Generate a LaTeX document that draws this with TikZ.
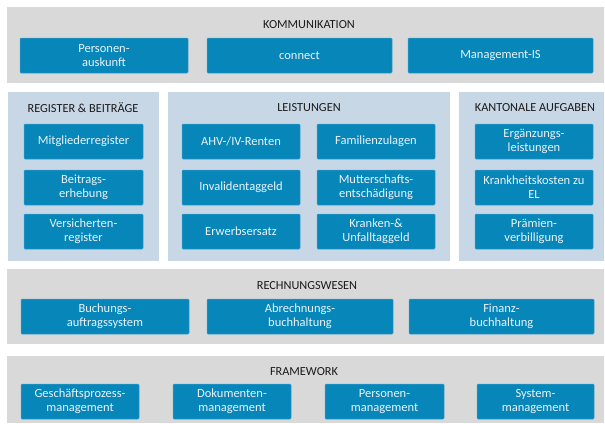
\documentclass[tikz,border=0pt]{standalone}
\usepackage{fontspec}
\setmainfont{Carlito}
\definecolor{panelgray}{HTML}{D9D9D9}
\definecolor{panelblue}{HTML}{C8D7E6}
\definecolor{boxblue}{HTML}{0786B9}
\definecolor{boxedge}{HTML}{3D9FCB}
\definecolor{boxtext}{HTML}{EAF3F8}
\definecolor{titletext}{HTML}{1A1A1A}
\begin{document}
\begin{tikzpicture}[x=1pt,y=-1pt,
  box/.style={fill=boxblue, draw=boxedge, line width=0.5pt, rounded corners=1pt,
    minimum height=35pt, inner sep=0pt, align=center, text=boxtext,
    font=\fontsize{12.5}{14}\selectfont},
  paneltitle/.style={text=titletext, font=\fontsize{12.3}{14}\selectfont, inner sep=0pt}]
\useasboundingbox (0,0) rectangle (605,423);
% panels
\fill[panelgray] (7,7) rectangle (604,83);
\fill[panelblue] (8,92) rectangle (159,261);
\fill[panelblue] (168,92) rectangle (450,261);
\fill[panelblue] (459,92) rectangle (604,261);
\fill[panelgray] (7,269) rectangle (604,344);
\fill[panelgray] (7,356) rectangle (604,423);
% titles
\node[paneltitle] (tk) at (309,25) {KOMMUNIKATION};
\node[paneltitle] (tr) at (83,108) {REGISTER \& BEITRÄGE};
\node[paneltitle] (tl) at (309,108) {LEISTUNGEN};
\node[paneltitle] (ta) at (535,108) {KANTONALE AUFGABEN};
\node[paneltitle] (tw) at (307,286) {RECHNUNGSWESEN};
\node[paneltitle] (tf) at (304,372) {FRAMEWORK};
% Kommunikation
\node[box, minimum width=168pt] (pa) at (104,55.5) {Personen-\\auskunft};
\node[box, minimum width=185pt] (con) at (299.5,55.5) {connect};
\node[box, minimum width=185pt] (mis) at (500.5,55.5) {Management-IS};
% Register
\node[box, minimum width=119pt] (mr) at (83.5,141.5) {Mitgliederregister};
\node[box, minimum width=119pt] (be) at (83.5,187.5) {Beitrags-\\erhebung};
\node[box, minimum width=119pt] (vr) at (83.5,231.5) {Versicherten-\\register};
% Leistungen
\node[box, minimum width=118pt] (ahv) at (241,141.5) {AHV-/IV-Renten};
\node[box, minimum width=118pt] (inv) at (241,187.5) {Invalidentaggeld};
\node[box, minimum width=118pt] (erw) at (241,231.5) {Erwerbsersatz};
\node[box, minimum width=118pt] (fam) at (376,141.5) {Familienzulagen};
\node[box, minimum width=118pt] (mut) at (376,187.5) {Mutterschafts-\\entschädigung};
\node[box, minimum width=118pt] (kra) at (376,231.5) {Kranken-\&\\Unfalltaggeld};
% Kantonale
\node[box, minimum width=118pt] (el) at (534,141.5) {Ergänzungs-\\leistungen};
\node[box, minimum width=118pt] (kk) at (534,187.5) {Krankheitskosten zu\\EL};
\node[box, minimum width=118pt] (pv) at (534,231.5) {Prämien-\\verbilligung};
% Rechnungswesen
\node[box, minimum width=168pt] (bas) at (105,316.5) {Buchungs-\\auftragssystem};
\node[box, minimum width=186pt] (abh) at (300,316.5) {Abrechnungs-\\buchhaltung};
\node[box, minimum width=185pt] (fbh) at (501.5,316.5) {Finanz-\\buchhaltung};
% Framework
\node[box, minimum width=118pt] (gpm) at (80,401.5) {Geschäftsprozess-\\management};
\node[box, minimum width=118pt] (dm) at (232,401.5) {Dokumenten-\\management};
\node[box, minimum width=119pt] (pm) at (384.5,401.5) {Personen-\\management};
\node[box, minimum width=117pt] (sm) at (535.5,401.5) {System-\\management};
\end{tikzpicture}
\end{document}
